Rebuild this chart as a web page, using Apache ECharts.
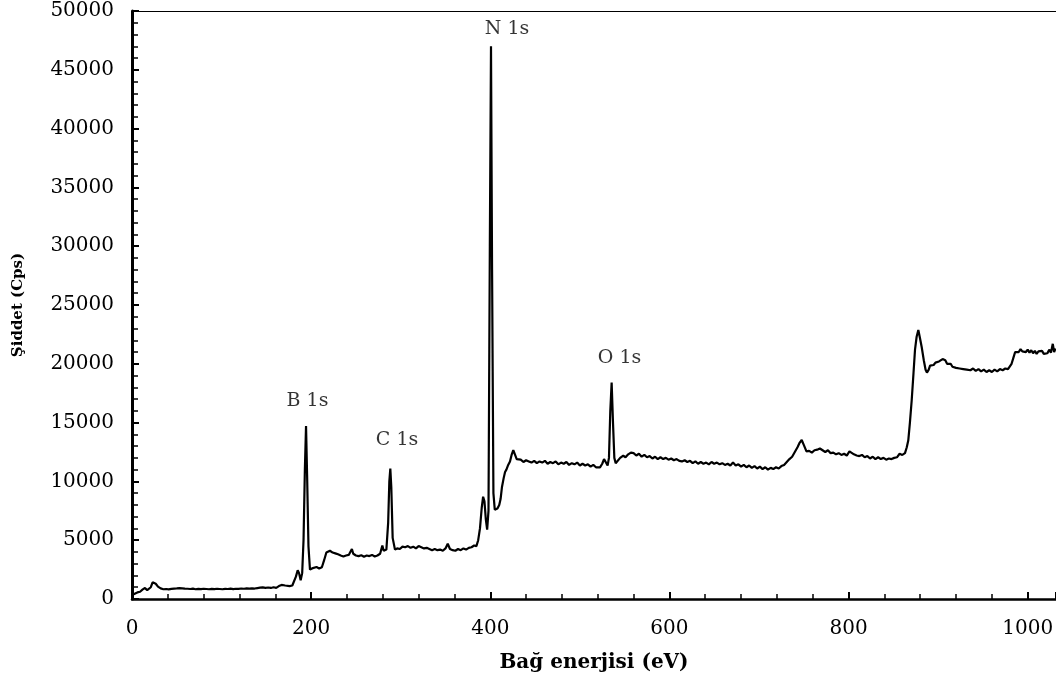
<!DOCTYPE html>
<html>
<head>
<meta charset="utf-8">
<script src="https://cdn.jsdelivr.net/npm/echarts@6/dist/echarts.min.js"></script>
<style>
html,body{margin:0;padding:0;background:#fff;}
#chart{width:1056px;height:674px;}
</style>
</head>
<body>
<div id="chart"></div>
<script>
// Binding energy (eV)
const energy = [
0,3,6,9,12,14.5,17,19,21,23,24.5,26.5,29,32,35,38,41,44,47,50,53,56,59,62,65,68,71,74,77,80,83,86,89,92,95,98,101,104,107,110,113,116,119,122,125,128,131,134,137,140,143,146,149,152,155,158,161,164,167,169,171,173,176,179,181,183,185,186.5,188.3,190,191.5,193,194.3,195.5,197,198.7,201,203,206,209,212,214.5,217,219,221,224,227,230,233,236,239,242,244,245.5,247,250,253,256,259,262,265,268,271,274,277,279.5,281,282.5,284,286,287.3,288.4,289.5,291,293.6,296,299,302,305,308,311,314,317,320,323,326,329,332,335,338,341,344,347,350,352.5,355,358,361,364,367,370,373,376,379,382,384.5,386.5,388.5,390.5,392,393.5,395,396.5,398,399.5,400.8,402,403.5,405,406.5,408,410,411.5,413,415,416.5,418,420,422,424,425.7,427.5,429.5,431.3,434,437,440,443,446,449,452,455,458,461,464,467,470,473,476,479,482,485,488,491,494,497,500,503,506,509,512,515,518,520,522.5,525,527,529,531,532.5,534,535.5,537,538.5,540,542,545,548.5,551,554,557,560,563,566,569,572,575,578,581,584,587,590,593,596,599,602,605,608,611,614,617,620,623,626,629,632,635,638,641,644,647,650,653,656,659,662,665,668,671,674,677,680,683,686,689,692,695,698,701,704,707,710,713,716,719,722,725,728,731,734,737,740,743,745.5,747.7,750,753,756,759,762,765,768,771,774,777,780,783,786,789,792,795,798,801,803,806,809,812,815,818,821,824,827,830,833,836,839,842,845,848,851,854,857,860,863,865,866.7,868.5,870.5,872.5,874.2,876,877.9,879.7,881.6,884,886,887.5,889.5,891,893,895,897,899,901,903,905,906.5,908,910,912,914,916,918,920,922,924,926,928,930,932,934,936,939,942,945,948,951,954,957,960,963,966,969,972,975,978,980,982,984,986,988,990,992,994,996,998,1000,1002,1004,1006,1008,1010,1012,1014,1016,1018,1020,1022,1024,1026,1028,1029.5,1031
];
// Intensity (Cps)
const counts = [
330,450,560,620,820,930,760,700,1000,1420,1480,1300,1050,900,830,850,820,860,880,900,930,910,880,870,850,880,830,860,840,870,850,830,860,840,870,850,830,860,850,880,840,870,860,890,870,900,880,910,890,930,960,990,950,980,940,1000,950,1100,1200,1300,1150,1050,1100,1150,1300,1900,2450,2200,1600,2200,5000,11000,14700,10500,4500,2500,2600,2500,2720,2600,2700,3300,3950,4080,4100,3950,3880,3800,3700,3620,3700,3750,3900,4250,3850,3700,3650,3720,3600,3700,3650,3750,3620,3700,3850,4550,4100,4000,4200,6500,10000,11100,9500,5200,4200,4300,4250,4450,4400,4500,4350,4450,4300,4500,4400,4300,4350,4250,4150,4250,4150,4200,4100,4300,4700,4250,4150,4100,4250,4150,4300,4200,4350,4400,4550,4500,5000,6000,7800,8700,8300,6800,5900,7500,30000,47000,28000,9000,7600,7450,7700,8000,8500,9500,10300,10800,11000,11400,11700,12300,12650,12300,11900,11750,11850,11650,11800,11700,11600,11750,11550,11700,11600,11750,11500,11650,11550,11700,11450,11600,11500,11650,11400,11550,11450,11600,11350,11500,11350,11450,11250,11400,11200,11350,11200,11500,11900,11950,11350,12000,16000,18400,15000,12000,11550,11700,12000,12200,12050,12300,12450,12400,12200,12350,12100,12250,12050,12150,11950,12100,11900,12050,11900,12000,11850,11950,11800,11900,11750,11700,11800,11650,11750,11550,11700,11500,11650,11500,11600,11450,11650,11500,11600,11450,11550,11400,11500,11350,11600,11350,11450,11250,11400,11200,11350,11150,11300,11100,11250,11050,11200,11000,11150,11050,11200,11100,11300,11400,11650,11900,12100,12500,12900,13300,13520,13100,12550,12600,12450,12650,12700,12800,12650,12500,12650,12400,12450,12300,12400,12250,12350,12200,12550,12700,12300,12200,12150,12250,12050,12150,11950,12100,11900,12050,11900,12000,11850,11950,11900,12000,12050,12350,12250,12400,12900,13500,15000,16900,19200,21200,22300,22870,22200,21450,20300,19500,19250,19500,19850,20000,19900,20100,20050,20200,20150,20400,20500,20300,20000,19850,20000,19750,19900,19650,19800,19600,19750,19550,19700,19500,19650,19450,19600,19400,19550,19350,19500,19300,19450,19300,19500,19350,19550,19450,19600,19550,19700,20000,20500,21000,21150,21000,21250,21050,21200,21000,21200,20950,21150,20900,21100,20850,21050,20900,21100,20850,21000,20900,21200,20950,21700,21000,21300
];
// Peak annotations
const peakNames = ['B 1s', 'C 1s', 'N 1s', 'O 1s'];
const peakLabelX = [195.9, 295.9, 418.7, 544.3];
const peakLabelY = [16800, 13520, 48450, 20490];
// Axis settings
const xTicks = [0, 200, 400, 600, 800, 1000];
const xMax = 1031.6;
const yMax = 50000;
const yStep = 5000;

const spectrum = energy.map((e, i) => [e, counts[i]]);
const labels = peakNames.map((n, i) => ({ name: n, value: [peakLabelX[i], peakLabelY[i]] }));

const serif = 'DejaVu Serif';
const plain = v => String(v);
const chart = echarts.init(document.getElementById('chart'), null, { renderer: 'canvas' });
chart.setOption({
  backgroundColor: '#fff',
  animation: false,
  grid: { left: 132, right: 0, top: 11, bottom: 75, containLabel: false, outerBoundsMode: 'none' },
  xAxis: [{
    type: 'value', min: 0, max: xMax, interval: xTicks[1] - xTicks[0], position: 'bottom',
    name: 'Bağ enerjisi (eV)', nameLocation: 'middle', nameGap: 54,
    nameTextStyle: { fontFamily: serif, fontWeight: 'bold', fontSize: 20, color: '#000' },
    axisLine: { show: true, lineStyle: { color: '#000', width: 2.5 } },
    axisTick: { show: true, inside: true, length: 7, lineStyle: { color: '#000', width: 2 } },
    minorTick: { show: true, splitNumber: 5, length: 5, lineStyle: { color: '#000', width: 1.5 } },
    axisLabel: { color: '#000', fontFamily: serif, fontSize: 20, margin: 20, showMaxLabel: false, formatter: plain },
    splitLine: { show: false }
  }, {
    type: 'value', min: 0, max: xMax, position: 'top',
    axisLine: { show: true, lineStyle: { color: '#000', width: 1 } },
    axisTick: { show: false }, axisLabel: { show: false }, splitLine: { show: false }
  }],
  yAxis: {
    type: 'value', min: 0, max: yMax, interval: yStep,
    name: 'Şiddet (Cps)', nameLocation: 'middle', nameGap: 106,
    nameTextStyle: { fontFamily: serif, fontWeight: 'bold', fontSize: 15, color: '#000' },
    axisLine: { show: true, lineStyle: { color: '#000', width: 3 } },
    axisTick: { show: true, inside: true, length: 7, lineStyle: { color: '#000', width: 2 } },
    minorTick: { show: true, splitNumber: 5, length: 6, lineStyle: { color: '#000', width: 1.5 } },
    axisLabel: { color: '#000', fontFamily: serif, fontSize: 20, margin: 18, formatter: plain },
    splitLine: { show: false }
  },
  series: [{
    type: 'line', data: spectrum, xAxisIndex: 0, showSymbol: false, symbol: 'none',
    sampling: 'none', lineStyle: { color: '#000', width: 2.2 }, z: 3
  }, {
    type: 'scatter', data: labels, xAxisIndex: 0, symbolSize: 1, silent: true,
    itemStyle: { color: 'rgba(0,0,0,0)' },
    label: { show: true, position: 'inside', formatter: '{b}', color: '#000', fontFamily: serif, fontSize: 19 }
  }]
});
</script>
</body>
</html>
